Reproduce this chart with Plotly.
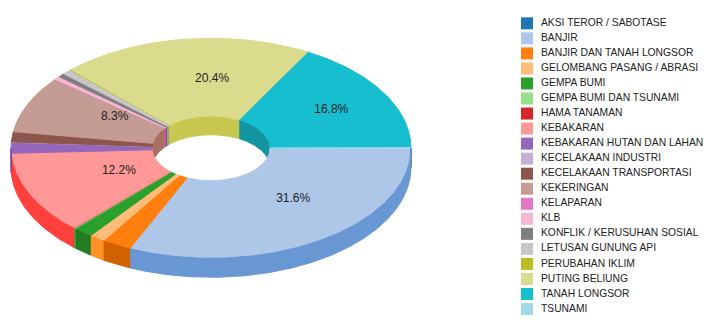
import colorsys
import numpy as np
import plotly.graph_objects as go

categories = [
    "AKSI TEROR / SABOTASE", "BANJIR", "BANJIR DAN TANAH LONGSOR", "GELOMBANG PASANG / ABRASI",
    "GEMPA BUMI", "GEMPA BUMI DAN TSUNAMI", "HAMA TANAMAN", "KEBAKARAN",
    "KEBAKARAN HUTAN DAN LAHAN", "KECELAKAAN INDUSTRI", "KECELAKAAN TRANSPORTASI", "KEKERINGAN",
    "KELAPARAN", "KLB", "KONFLIK / KERUSUHAN SOSIAL", "LETUSAN GUNUNG API",
    "PERUBAHAN IKLIM", "PUTING BELIUNG", "TANAH LONGSOR", "TSUNAMI",
]
values = [1, 632, 48, 25, 32, 2, 1, 244, 32, 1, 30, 166, 1, 10, 11, 15, 2, 408, 336, 2]
colors = [
    "#1f77b4", "#aec7e8", "#ff7f0e", "#ffbb78", "#2ca02c", "#98df8a", "#d62728", "#ff9896",
    "#9467bd", "#c5b0d5", "#8c564b", "#c49c94", "#e377c2", "#f7b6d2", "#7f7f7f", "#c7c7c7",
    "#bcbd22", "#dbdb8d", "#17becf", "#9edae5",
]

W, H = 709, 332
CX, CY, RX, RY, DEPTH, IR = 211, 148.3, 200, 110, 19, 0.295


def darker(hexc, k=0.7):
    r, g, b = (int(hexc[i:i + 2], 16) / 255 for i in (1, 3, 5))
    h, l, s = colorsys.rgb_to_hls(r, g, b)
    r, g, b = colorsys.hls_to_rgb(h, l * 0.7 ** k, s)
    return "#%02x%02x%02x" % (round(r * 255), round(g * 255), round(b * 255))


def arc(a0, a1, rx, ry, dy=0.0):
    n = max(2, int(abs(a1 - a0) * 180 / np.pi * 2) + 2)
    t = np.linspace(a0, a1, n)
    return CX + rx * np.cos(t), CY + ry * np.sin(t) + dy


total = float(sum(values))
ends = np.cumsum(values) / total * 2 * np.pi
starts = np.concatenate([[0.0], ends[:-1]])

fig = go.Figure()


def poly(xs, ys, fill, line=None):
    fig.add_trace(go.Scatter(
        x=np.append(xs, xs[0]), y=np.append(ys, ys[0]), mode="lines", fill="toself",
        fillcolor=fill, line=dict(color=line or fill, width=1), hoverinfo="skip", showlegend=False))


# inner walls (far side)
for a0, a1, c in zip(starts, ends, colors):
    s, e = max(a0, np.pi), max(a1, np.pi)
    if e - s <= 0:
        continue
    x1, y1 = arc(s, e, IR * (RX + 0.5), IR * (RY + 0.5))
    x2, y2 = arc(e, s, IR * (RX + 0.5), IR * (RY + 0.5), DEPTH)
    poly(np.concatenate([x1, x2]), np.concatenate([y1, y2]), darker(c))

# top faces
for a0, a1, c in zip(starts, ends, colors):
    if a1 - a0 <= 0:
        continue
    x1, y1 = arc(a0, a1, RX, RY)
    x2, y2 = arc(a1, a0, IR * RX, IR * RY)
    poly(np.concatenate([x1, x2]), np.concatenate([y1, y2]), c)

# outer walls (near side)
for a0, a1, c in zip(starts, ends, colors):
    s, e = min(a0, np.pi), min(a1, np.pi)
    if e - s <= 0:
        continue
    x1, y1 = arc(s, e, RX, RY, DEPTH)
    x2, y2 = arc(e, s, RX, RY)
    poly(np.concatenate([x1, x2]), np.concatenate([y1, y2]), darker(c))

# percent labels (baseline at 0.6 radius, left-anchored)
lx, ly, lt = [], [], []
for a0, a1 in zip(starts, ends):
    if a1 - a0 > 0.2:
        m = 0.5 * (a0 + a1)
        lx.append(CX + 0.6 * RX * np.cos(m))
        ly.append(CY + 0.6 * RY * np.sin(m) - 4.3)
        lt.append("%.1f%%" % (round(1000 * (a1 - a0) / (2 * np.pi)) / 10))
fig.add_trace(go.Scatter(
    x=lx, y=ly, text=lt, mode="text", textposition="middle right",
    textfont=dict(family="Liberation Sans, Arial, sans-serif", size=12, color="#222222"),
    hoverinfo="skip", showlegend=False))

# legend
leg_y = [23.3 + 15.04 * i for i in range(len(categories))]
fig.add_trace(go.Scatter(
    x=[527] * len(categories), y=leg_y, mode="markers",
    marker=dict(symbol="square", size=12, color=colors, line=dict(width=0)),
    hoverinfo="skip", showlegend=False))
fig.add_trace(go.Scatter(
    x=[541] * len(categories), y=leg_y, text=categories, mode="text", textposition="middle right",
    textfont=dict(family="Liberation Sans, Arial, sans-serif", size=10.3, color="#222222"),
    hoverinfo="skip", showlegend=False))

fig.update_layout(
    width=W, height=H, margin=dict(l=0, r=0, t=0, b=0),
    paper_bgcolor="white", plot_bgcolor="white", showlegend=False,
    xaxis=dict(range=[0, W], visible=False, fixedrange=True),
    yaxis=dict(range=[H, 0], visible=False, fixedrange=True),
)
fig.write_html("out.html")
